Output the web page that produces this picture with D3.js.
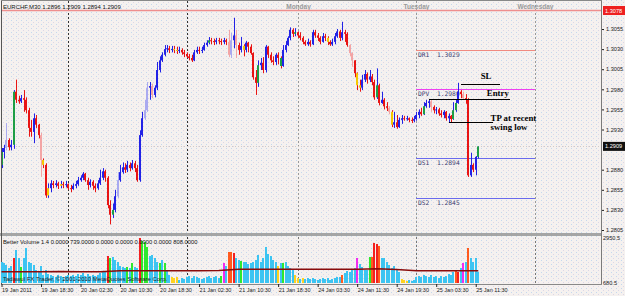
<!DOCTYPE html>
<html>
<head>
<meta charset="utf-8">
<script src="https://cdn.jsdelivr.net/npm/d3@7/dist/d3.min.js"></script>
<style>
  html, body { margin: 0; padding: 0; background: #f4f1ef; }
  svg { display: block; font-family: "Liberation Sans", Arial, sans-serif; }
</style>
</head>
<body>
<div id="chart"></div>
<script>
// ---- data (bar 0 = 19 Jan 10:30) ----
const symbolTitle = "EURCHF,M30  1.2896 1.2909 1.2894 1.2909";
const firstOpen = 1.2886;
const closes = [
  1.2902,1.2907,1.2917,1.2908,1.2911,1.2977,1.2967,1.2965,1.2969,1.2967,
  1.2954,1.2932,1.2927,1.2944,1.2936,1.2923,1.2892,1.2886,1.2848,1.2857,
  1.2863,1.2861,1.2863,1.2860,1.2862,1.2861,1.2862,1.2857,1.2856,1.2860,
  1.2862,1.2867,1.2870,1.2875,1.2867,1.2861,1.2865,1.2860,1.2857,1.2863,
  1.2870,1.2878,1.2870,1.2836,1.2824,1.2830,1.2847,1.2867,1.2877,1.2883,
  1.2880,1.2886,1.2882,1.2888,1.2882,1.2867,1.2923,1.2944,1.2954,1.2982,
  1.2984,1.2973,1.2982,1.3004,1.3016,1.3023,1.3030,1.3031,1.3029,1.3030,
  1.3029,1.3028,1.3029,1.3026,1.3024,1.3021,1.3019,1.3016,1.3026,1.3029,
  1.3028,1.3029,1.3035,1.3038,1.3041,1.3040,1.3039,1.3041,1.3040,1.3039,
  1.3041,1.3039,1.3023,1.3041,1.3047,1.3035,1.3029,1.3034,1.3029,1.3038,
  1.3033,1.3025,1.2995,1.2988,1.3010,1.3013,1.3004,1.3033,1.3023,1.3016,
  1.3014,1.3023,1.3019,1.3009,1.3029,1.3035,1.3044,1.3054,1.3049,1.3051,
  1.3047,1.3044,1.3039,1.3036,1.3039,1.3036,1.3051,1.3047,1.3044,1.3039,
  1.3046,1.3044,1.3039,1.3036,1.3039,1.3046,1.3052,1.3044,1.3051,1.3049,
  1.3035,1.3025,1.3016,1.3000,1.2985,1.2982,1.2992,1.2999,1.2992,1.2996,
  1.2989,1.2970,1.2985,1.2963,1.2967,1.2959,1.2957,1.2952,1.2936,1.2939,
  1.2933,1.2942,1.2944,1.2943,1.2944,1.2942,1.2941,1.2943,1.2948,1.2952,
  1.2949,1.2959,1.2963,1.2965,1.2958,1.2954,1.2955,1.2950,1.2948,1.2952,
  1.2944,1.2947,1.2943,1.2954,1.2963,1.2977,1.2974,1.2969,1.2967,1.2873,
  1.2886,1.2880,1.2896,1.2909
];
const highs = [
  1.2907,1.2911,1.2938,1.2919,1.2917,1.2979,1.2992,1.2972,1.2973,1.2979,
  1.2970,1.2957,1.2942,1.2950,1.2948,1.2937,1.2926,1.2894,1.2888,1.2863,
  1.2867,1.2866,1.2867,1.2865,1.2866,1.2865,1.2866,1.2863,1.2861,1.2863,
  1.2866,1.2871,1.2873,1.2877,1.2876,1.2870,1.2868,1.2867,1.2863,1.2867,
  1.2880,1.2882,1.2880,1.2872,1.2842,1.2838,1.2855,1.2877,1.2886,1.2889,
  1.2888,1.2891,1.2889,1.2892,1.2891,1.2886,1.2929,1.2952,1.2967,1.2989,
  1.2989,1.2987,1.2985,1.3014,1.3021,1.3026,1.3035,1.3035,1.3034,1.3034,
  1.3034,1.3033,1.3033,1.3031,1.3029,1.3026,1.3024,1.3023,1.3029,1.3033,
  1.3033,1.3033,1.3038,1.3041,1.3045,1.3044,1.3043,1.3044,1.3044,1.3043,
  1.3044,1.3043,1.3054,1.3050,1.3069,1.3054,1.3038,1.3045,1.3036,1.3040,
  1.3039,1.3036,1.3026,1.3004,1.3016,1.3019,1.3020,1.3035,1.3034,1.3026,
  1.3021,1.3025,1.3026,1.3021,1.3035,1.3040,1.3046,1.3057,1.3056,1.3056,
  1.3052,1.3051,1.3046,1.3041,1.3043,1.3041,1.3054,1.3054,1.3050,1.3046,
  1.3050,1.3049,1.3046,1.3041,1.3043,1.3050,1.3055,1.3054,1.3064,1.3054,
  1.3051,1.3036,1.3026,1.3016,1.3001,1.2992,1.2998,1.3004,1.3001,1.3004,
  1.2999,1.2992,1.3006,1.2987,1.2977,1.2969,1.2964,1.2959,1.2954,1.2952,
  1.2948,1.2945,1.2948,1.2947,1.2947,1.2945,1.2945,1.2947,1.2952,1.2955,
  1.2957,1.2964,1.2967,1.2968,1.2967,1.2960,1.2958,1.2957,1.2954,1.2954,
  1.2953,1.2950,1.2948,1.2964,1.2967,1.2988,1.2979,1.2977,1.2974,1.2969,
  1.2901,1.2888,1.2897,1.2909
];
const lows = [
  1.2882,1.2894,1.2904,1.2904,1.2904,1.2906,1.2963,1.2962,1.2963,1.2952,
  1.2950,1.2921,1.2921,1.2913,1.2932,1.2919,1.2871,1.2882,1.2845,1.2845,
  1.2852,1.2857,1.2858,1.2856,1.2857,1.2857,1.2858,1.2855,1.2852,1.2855,
  1.2857,1.2860,1.2865,1.2867,1.2865,1.2855,1.2858,1.2855,1.2852,1.2855,
  1.2861,1.2867,1.2865,1.2832,1.2812,1.2820,1.2827,1.2845,1.2865,1.2875,
  1.2876,1.2877,1.2878,1.2880,1.2877,1.2865,1.2865,1.2921,1.2942,1.2952,
  1.2967,1.2969,1.2970,1.2979,1.3001,1.3014,1.3021,1.3026,1.3025,1.3026,
  1.3025,1.3024,1.3025,1.3023,1.3020,1.3019,1.3016,1.3014,1.3015,1.3024,
  1.3024,1.3025,1.3028,1.3033,1.3036,1.3036,1.3035,1.3036,1.3036,1.3035,
  1.3036,1.3035,1.3020,1.3019,1.3031,1.3019,1.3023,1.3026,1.3021,1.3026,
  1.3026,1.3023,1.2992,1.2973,1.2983,1.3004,1.3000,1.3001,1.3019,1.3013,
  1.3010,1.3010,1.3011,1.3006,1.3008,1.3026,1.3034,1.3041,1.3045,1.3046,
  1.3044,1.3041,1.3036,1.3034,1.3034,1.3033,1.3035,1.3044,1.3040,1.3036,
  1.3038,1.3040,1.3035,1.3034,1.3034,1.3036,1.3044,1.3040,1.3041,1.3039,
  1.3033,1.3021,1.3008,1.2995,1.2979,1.2977,1.2979,1.2989,1.2987,1.2989,
  1.2985,1.2967,1.2968,1.2960,1.2962,1.2955,1.2953,1.2949,1.2933,1.2932,
  1.2931,1.2932,1.2937,1.2941,1.2941,1.2939,1.2938,1.2939,1.2941,1.2944,
  1.2947,1.2948,1.2957,1.2957,1.2952,1.2950,1.2949,1.2947,1.2945,1.2944,
  1.2941,1.2939,1.2939,1.2942,1.2952,1.2962,1.2969,1.2967,1.2962,1.2871,
  1.2871,1.2877,1.2873,1.2894
];
// candle body colours that differ from plain up/down
const yellowBars = [17, 19, 24, 70, 71, 98, 132, 144, 145, 158];
const greenBars = [0, 5, 45, 84, 104, 113, 119, 152, 171, 183, 184, 193];
const paleBars = [2, 16, 47, 58, 59, 61, 92, 93, 95, 141, 142, 157, 174, 187];

// Better Volume histogram
const volumes = [
  1378,1312,1181,984,1115,1640,2165,1640,1050,1640,
  2296,1378,1312,1181,853,722,1115,525,853,590,
  525,459,394,525,459,394,459,525,459,525,
  459,590,525,656,459,590,459,525,459,525,
  656,787,722,1771,1640,1706,1509,1378,1115,1050,
  984,1050,984,1312,1050,984,2950,2755,2690,2362,
  1771,1837,1640,1378,1312,1509,1312,853,525,394,
  328,394,197,328,262,394,459,328,459,394,
  328,262,328,394,459,328,394,459,328,459,
  1312,1115,2034,2034,1968,1640,1509,1443,1378,1378,
  1246,1312,1378,1509,1837,1378,1640,2362,1902,1771,
  1509,1378,1115,1312,1312,1378,1115,984,853,525,
  328,262,328,262,328,262,328,262,197,262,
  328,262,328,197,262,328,394,394,525,656,
  787,722,853,984,1640,1246,1050,853,853,1706,
  1706,2624,2558,2427,1640,1640,1378,1181,984,1115,
  853,722,262,197,131,197,131,197,394,459,
  394,525,459,394,525,394,459,328,459,394,
  459,590,525,722,787,722,984,1312,1378,2296,
  1640,1378,1640,739
];
const volRed = [5, 43, 56, 94, 151, 152, 185];
const volOrange = [92, 93, 138, 150, 153, 184, 189];
const volGreen = [8, 44, 51, 53, 57, 58, 59, 64, 66, 89, 97, 114, 149];
const volYellow = [69, 70, 71, 112, 119, 120, 122, 162, 163, 164];
const volMagenta = [90, 144, 187];
const maBars = [0, 8, 16, 24, 32, 40, 48, 56, 64, 72, 80, 88, 96, 104, 112, 120, 128, 136, 144, 152, 160, 168, 176, 184, 193];
const maValues = [741, 741, 741, 760, 741, 741, 807, 807, 807, 807, 807, 820, 899, 899, 899, 899, 899, 899, 899, 930, 880, 807, 807, 807, 808];
const volumeLabel = "Better Volume 1.4 0.0000 739.0000 0.0000 0.0000 0.0000 0.0000 808.0000";
const volTicks = [2950.5, 0];
const volTickLabels = ["2950.5", "680.5"];

// axes
const priceTicks = [1.3055, 1.3030, 1.3005, 1.2980, 1.2955, 1.2930, 1.2880, 1.2855, 1.2830, 1.2805];
const timeTicks = [0, 16, 32, 48, 64, 80, 96, 112, 128, 144, 160, 176, 192];
const timeLabels = ["19 Jan 2011", "19 Jan 18:30", "20 Jan 02:30", "20 Jan 10:30", "20 Jan 18:30",
  "21 Jan 02:30", "21 Jan 10:30", "21 Jan 18:30", "24 Jan 03:30", "24 Jan 11:30",
  "24 Jan 19:30", "25 Jan 03:30", "25 Jan 11:30"];
const dayBreaks = [27, 75, 120, 168, 216];
const dayNames = ["", "", "Monday", "Tuesday", "Wednesday"];

// pivots for the current day
const pivotNames = ["DR1", "DPV", "DS1", "DS2"];
const pivotValues = [1.3029, 1.2980, 1.2894, 1.2845];
const pivotColors = ["#f08a80", "#f040f0", "#6a6aee", "#6a6aee"];
const alertPrice = 1.3078;
const lastPrice = 1.2909;

// hand drawn trade notes: [from bar, to bar, price]
const noteLines = [[186, 202, 1.2987], [173, 206, 1.2968], [181, 199, 1.2939]];
const noteTexts = ["SL", "Entry", "TP at recent", "swing low"];
const noteAnchors = [[194, 1.2993], [196.5, 1.2972], [198, 1.2941], [198, 1.2930]];

// ---- drawing ----
const W = 625, H = 296;
const svg = d3.select("#chart").append("svg").attr("width", W).attr("height", H);

const defs = svg.append("defs");
const pat = defs.append("pattern").attr("id", "speckle")
  .attr("width", 5).attr("height", 4).attr("patternUnits", "userSpaceOnUse");
pat.append("rect").attr("width", 5).attr("height", 4).attr("fill", "#f5f1ef");
pat.append("rect").attr("x", 1).attr("y", 0).attr("width", 1).attr("height", 1).attr("fill", "#c4d8ee");
pat.append("rect").attr("x", 3).attr("y", 2).attr("width", 1).attr("height", 1).attr("fill", "#dcd6e6");
svg.append("rect").attr("width", W).attr("height", H).attr("fill", "url(#speckle)");

// scales
const x = d3.scaleLinear().domain([0, 216]).range([1.5, 535]);
const y = d3.scaleLinear().domain([1.2805, 1.3055]).range([230, 29]);
const vy = d3.scaleLinear().domain([0, 2950.5]).range([283, 238]);
const px = i => Math.round(x(i));

// header
svg.append("text").attr("x", 3).attr("y", 9).style("font-size", "6px").attr("fill", "#111")
  .text(symbolTitle);

// day separators
dayBreaks.forEach((b, k) => {
  const xx = px(b) + 0.5;
  svg.append("line").attr("x1", xx).attr("x2", xx).attr("y1", 1).attr("y2", 233)
    .attr("stroke", k < 2 ? "#333" : "#999").attr("stroke-dasharray", "2,2");
  svg.append("line").attr("x1", xx).attr("x2", xx).attr("y1", 237).attr("y2", 284)
    .attr("stroke", k < 2 ? "#333" : "#777").attr("stroke-dasharray", "2,2");
  if (dayNames[k]) {
    svg.append("text").attr("x", xx).attr("y", 9).attr("text-anchor", "middle")
      .style("font-size", "6.5px").style("font-weight", "bold").attr("fill", "#9a9a9a")
      .text(dayNames[k]);
  }
});

// alert line (red)
svg.append("line").attr("x1", 1).attr("x2", 602).attr("y1", y(alertPrice)).attr("y2", y(alertPrice))
  .attr("stroke", "#ee8f8f").attr("stroke-width", 1.5);

// bid line
svg.append("line").attr("x1", 1).attr("x2", 602).attr("y1", Math.round(y(lastPrice)) + 0.5)
  .attr("y2", Math.round(y(lastPrice)) + 0.5)
  .attr("stroke", "#cfcac8").attr("stroke-dasharray", "1,2");

// pivots
const piv = svg.append("g");
pivotValues.forEach((v, k) => {
  const yy = Math.round(y(v)) + 0.5;
  piv.append("line").attr("x1", px(168)).attr("x2", px(216)).attr("y1", yy).attr("y2", yy)
    .attr("stroke", pivotColors[k]).attr("stroke-width", 1);
  piv.append("text").attr("x", px(168) + 2).attr("y", yy + 6)
    .style("font-family", "'DejaVu Sans Mono', monospace").style("font-size", "6.3px")
    .style("white-space", "pre")
    .attr("fill", "#3c3c70")
    .text(pivotNames[k] + "  " + d3.format(".4f")(v));
});

// candles
const UP = "#2222e6", DOWN = "#e81414", UP_PALE = "#a9a9f0", DOWN_PALE = "#f3a5a5",
      YEL = "#f5c800", GRN = "#1e9e46";
const bars = closes.map((c, i) => ({
  i, o: i ? closes[i - 1] : firstOpen, c, h: highs[i], l: lows[i]
}));
const bodyColor = d => {
  const up = d.c >= d.o;
  if (yellowBars.includes(d.i)) return YEL;
  if (greenBars.includes(d.i)) return GRN;
  if (paleBars.includes(d.i)) return up ? UP_PALE : DOWN_PALE;
  return up ? UP : DOWN;
};
const wickColor = d => {
  const up = d.c >= d.o;
  if (paleBars.includes(d.i)) return up ? UP_PALE : DOWN_PALE;
  return up ? UP : DOWN;
};
const cg = svg.append("g");
cg.selectAll("rect.wick").data(bars).join("rect").attr("class", "wick")
  .attr("x", d => px(d.i))
  .attr("width", 1)
  .attr("y", d => y(Math.max(d.h, d.o, d.c)))
  .attr("height", d => Math.max(1, y(Math.min(d.l, d.o, d.c)) - y(Math.max(d.h, d.o, d.c))))
  .attr("fill", wickColor);
cg.selectAll("rect.body").data(bars).join("rect").attr("class", "body")
  .attr("x", d => px(d.i) - 1)
  .attr("width", 2)
  .attr("y", d => y(Math.max(d.o, d.c)))
  .attr("height", d => Math.max(1, Math.abs(y(d.o) - y(d.c))))
  .attr("fill", bodyColor);

// trade notes
const ng = svg.append("g");
noteLines.forEach(([a, b, p]) => {
  const yy = Math.round(y(p)) + 0.5;
  ng.append("line").attr("x1", px(a)).attr("x2", px(b)).attr("y1", yy).attr("y2", yy)
    .attr("stroke", "#000").attr("stroke-width", 1);
});
noteTexts.forEach((t, k) => {
  ng.append("text").attr("x", x(noteAnchors[k][0])).attr("y", y(noteAnchors[k][1]))
    .style("font-family", "'Liberation Serif', 'DejaVu Serif', serif").style("font-weight", "bold")
    .style("font-size", "8.8px").attr("fill", "#000").text(t);
});

// price axis
const gy = svg.append("g").attr("transform", "translate(602,0)")
  .call(d3.axisRight(y).tickValues(priceTicks).tickFormat(d3.format(".4f")).tickSize(2).tickSizeOuter(0));
gy.select(".domain").remove();
gy.selectAll("line").attr("stroke", "#222");
gy.selectAll("text").attr("x", 4).attr("fill", "#222")
  .style("font-size", "5.6px").style("font-family", "'Liberation Sans', Arial, sans-serif");

// price label boxes
[[alertPrice, "#ee2020"], [lastPrice, "#111"]].forEach(([p, col]) => {
  const yy = y(p);
  svg.append("rect").attr("x", 603).attr("y", yy - 4.5).attr("width", 22).attr("height", 9).attr("fill", col);
  svg.append("text").attr("x", 605).attr("y", yy + 2).style("font-size", "5.6px").attr("fill", "#fff")
    .text(d3.format(".4f")(p));
});

// pane separator and frames
svg.append("rect").attr("x", 0).attr("y", 233).attr("width", 602).attr("height", 3).attr("fill", "#a5a5a5");
svg.append("line").attr("x1", 601.5).attr("x2", 601.5).attr("y1", 0).attr("y2", 284.5).attr("stroke", "#7a7a7a");
svg.append("line").attr("x1", 1.5).attr("x2", 1.5).attr("y1", 0).attr("y2", 284.5).attr("stroke", "#555");
svg.append("line").attr("x1", 1).attr("x2", 602).attr("y1", 0.5).attr("y2", 0.5).attr("stroke", "#888");
svg.append("line").attr("x1", 1).attr("x2", 602).attr("y1", 284.5).attr("y2", 284.5).attr("stroke", "#888");

// volume histogram
const volColor = i => {
  if (volRed.includes(i)) return "#f42020";
  if (volOrange.includes(i)) return "#ff5a1e";
  if (volGreen.includes(i)) return "#2ee82e";
  if (volYellow.includes(i)) return "#ffd21e";
  if (volMagenta.includes(i)) return "#f02cf0";
  return "#3cc4f2";
};
svg.append("g").selectAll("rect").data(volumes).join("rect")
  .attr("x", (d, i) => px(i) - 1)
  .attr("width", 2)
  .attr("y", d => vy(d))
  .attr("height", d => 283 - vy(d))
  .attr("fill", (d, i) => volColor(i));

const maLine = d3.line().x((d, k) => x(maBars[k])).y(d => vy(d));
svg.append("path").datum(maValues).attr("d", maLine)
  .attr("fill", "none").attr("stroke", "#8a0c0c").attr("stroke-width", 1.5);

svg.append("text").attr("x", 3).attr("y", 244).style("font-size", "5.8px").attr("fill", "#111")
  .text(volumeLabel);
svg.append("text").attr("x", 3).attr("y", 281).style("font-size", "6px").attr("fill", "#222")
  .text("Tadawul FX Trader, \u00a9 2001-2010 MetaQuotes Software Corp.");

const gv = svg.append("g").attr("transform", "translate(602,0)")
  .call(d3.axisRight(vy).tickValues(volTicks).tickFormat((d, k) => volTickLabels[k]).tickSize(0).tickSizeOuter(0));
gv.select(".domain").remove();
gv.selectAll("text").attr("x", 1).attr("fill", "#222")
  .style("font-size", "5.6px").style("font-family", "'Liberation Sans', Arial, sans-serif");

// time axis
const gx = svg.append("g").attr("transform", "translate(0,284)")
  .call(d3.axisBottom(x).tickValues(timeTicks).tickFormat((d, k) => timeLabels[k]).tickSize(3).tickSizeOuter(0));
gx.select(".domain").remove();
gx.selectAll("line").attr("stroke", "#222");
gx.selectAll("text").attr("text-anchor", "start").attr("x", 0).attr("y", 4).attr("dy", "0.71em")
  .attr("fill", "#222")
  .style("font-size", "5.5px").style("font-family", "'Liberation Sans', Arial, sans-serif");
</script>
</body>
</html>
